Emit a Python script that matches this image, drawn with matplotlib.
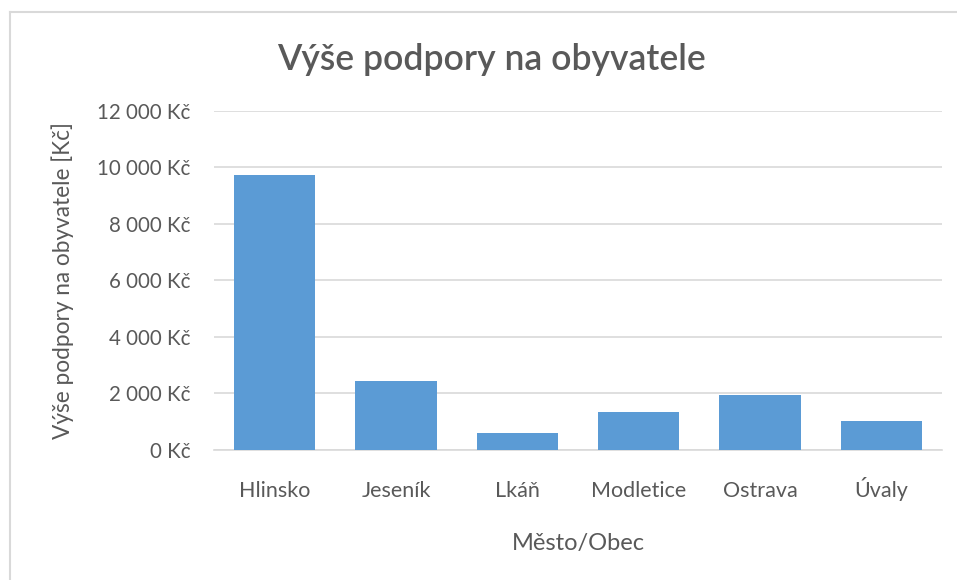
import matplotlib
matplotlib.use('Agg')
import matplotlib.pyplot as plt
from matplotlib.lines import Line2D
import numpy as np

mesta = ['Hlinsko', 'Jeseník', 'Lkáň', 'Modletice', 'Ostrava', 'Úvaly']
podpora = [9740, 2440, 600, 1320, 1920, 1000]
yticks = [0, 2000, 4000, 6000, 8000, 10000, 12000]
ytick_labels = ['0 Kč', '2 000 Kč', '4 000 Kč', '6 000 Kč', '8 000 Kč', '10 000 Kč', '12 000 Kč']

plt.rcParams['font.family'] = ['Lato', 'DejaVu Sans']
text_col = '#595959'

fig = plt.figure(figsize=(9.57, 5.8), dpi=100)
ax = fig.add_axes([0.2236, 0.225, 0.7607, 0.5836])

x = np.arange(len(mesta))
ax.bar(x, podpora, width=0.67, color='#5b9bd5', zorder=3)

ax.set_xlim(-0.5, len(mesta) - 0.5)
ax.set_ylim(0, 12000)
ax.set_yticks(yticks)
ax.set_yticklabels(ytick_labels, fontsize=14.8)
ax.set_xticks(x)
ax.set_xticklabels(mesta, fontsize=15.5, va='baseline')
ax.tick_params(axis='both', length=0, colors=text_col)
ax.tick_params(axis='y', pad=16.8)
ax.tick_params(axis='x', pad=34)

ax.grid(axis='y', color='#d9d9d9', linewidth=1.2, zorder=0)
for s in ['top', 'right', 'left']:
    ax.spines[s].set_visible(False)
ax.spines['bottom'].set_color('#d9d9d9')
ax.spines['bottom'].set_linewidth(1.2)

ax.set_xlabel('Město/Obec', fontsize=17, color=text_col, va='baseline')
ax.xaxis.set_label_coords(0.5, (449.5 - 550) / 338.5)
ax.set_ylabel('Výše podpory na obyvatele [Kč]', fontsize=16.3, color=text_col, va='center')
ax.yaxis.set_label_coords((63 - 214) / 728, 0.5)

fig.text(491 / 957, 1 - 70 / 580, 'Výše podpory na obyvatele', fontsize=25.6,
         fontweight='semibold', color=text_col, ha='center', va='baseline')

# chart frame (left and top edge visible)
fig.add_artist(Line2D([10 / 957, 10 / 957], [0, 1 - 12 / 580], color='#d9d9d9', linewidth=1.5))
fig.add_artist(Line2D([10 / 957, 1], [1 - 12 / 580, 1 - 12 / 580], color='#d9d9d9', linewidth=1.5))

fig.savefig('out.png', dpi=100)
